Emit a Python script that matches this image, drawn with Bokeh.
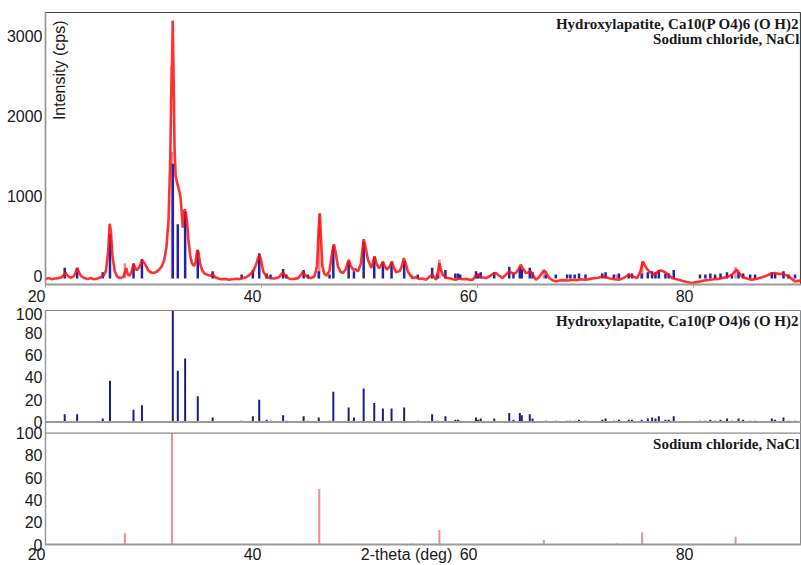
from bokeh.plotting import figure
from bokeh.layouts import column
from bokeh.models import Label, Range1d, FixedTicker, ColumnDataSource, Span
from bokeh.embed import file_html
from bokeh.resources import INLINE

# Measured diffraction pattern: 2-theta (deg) and intensity (cps)
two_theta = [
    20.0, 20.3, 20.6, 20.9, 21.2, 21.5, 21.7, 21.85, 22.0, 22.3, 22.6, 22.8, 22.93, 23.1, 23.3,
    23.6, 23.9, 24.2, 24.5, 24.8, 25.1, 25.38, 25.6, 25.8, 25.94, 26.05, 26.2, 26.4, 26.62, 26.9,
    27.2, 27.4, 27.48, 27.6, 27.8, 28.0, 28.15, 28.3, 28.46, 28.7, 28.93, 29.1, 29.33, 29.54, 29.8,
    30.0, 30.3, 30.55, 30.77, 31.0, 31.2, 31.39, 31.55, 31.68, 31.72, 31.78, 31.86, 31.95, 32.05, 32.2,
    32.35, 32.5, 32.62, 32.71, 32.8, 32.9, 33.0, 33.1, 33.23, 33.4, 33.55, 33.75, 33.9, 34.05, 34.15,
    34.3, 34.5, 34.7, 35.0, 35.3, 35.48, 35.7, 36.0, 36.3, 36.6, 37.0, 37.3, 37.6, 38.0, 38.3,
    38.6, 38.9, 39.23, 39.5, 39.7, 39.82, 39.95, 40.16, 40.47, 40.8, 41.2, 41.6, 41.85, 42.0, 42.2,
    42.62, 43.0, 43.4, 43.7, 43.85, 44.0, 44.3, 44.6, 44.9, 45.14, 45.3, 45.4, 45.5, 45.64, 45.8,
    46.0, 46.3, 46.55, 46.71, 46.85, 47.08, 47.3, 47.54, 47.8, 48.07, 48.25, 48.47, 48.7, 48.93, 49.2,
    49.46, 49.6, 49.86, 50.17, 50.47, 50.65, 50.87, 51.05, 51.24, 51.4, 51.61, 51.85, 52.07, 52.25, 52.47,
    52.8, 53.0, 53.18, 53.35, 53.55, 53.8, 54.0, 54.3, 54.6, 54.9, 55.24, 55.5, 55.8, 56.0, 56.17,
    56.35, 56.47, 56.6, 56.78, 57.1, 57.4, 57.7, 58.0, 58.3, 58.6, 59.0, 59.3, 59.55, 59.86, 60.1,
    60.4, 60.78, 61.1, 61.4, 61.7, 62.0, 62.32, 62.6, 62.94, 63.2, 63.55, 63.8, 64.0, 64.2, 64.48,
    64.7, 64.94, 65.15, 65.4, 65.7, 65.95, 66.17, 66.35, 66.63, 67.0, 67.25, 67.6, 68.0, 68.4, 68.8,
    69.2, 69.6, 70.0, 70.4, 70.8, 71.2, 71.55, 71.9, 72.3, 72.7, 73.1, 73.5, 74.0, 74.4, 74.8,
    75.1, 75.3, 75.45, 75.7, 76.0, 76.33, 76.6, 76.94, 77.2, 77.4, 77.7, 78.02, 78.3, 78.63, 79.0,
    79.4, 79.86, 80.3, 80.7, 81.1, 81.5, 81.9, 82.3, 82.63, 83.0, 83.3, 83.56, 83.8, 84.02, 84.2,
    84.48, 84.8, 85.1, 85.4, 85.8, 86.2, 86.63, 87.0, 87.3, 87.56, 87.9, 88.17, 88.5, 88.79, 89.1,
    89.4, 89.7, 90.0,
]
intensity = [
    -40, -30, -45, -35, -30, -20, 10, 40, 5, -25, -10, 40, 95, 40, -5,
    -30, -40, -30, -45, -35, -20, 0, 60, 300, 650, 560, 250, 60, -10, -30,
    -15, 60, 96, 20, 0, 60, 150, 100, 68, 110, 190, 170, 116, 60, 40,
    33, 50, 80, 120, 200, 360, 700, 1450, 2600, 2650, 3190, 2500, 1600, 1250, 1150,
    1080, 980, 780, 600, 790, 830, 780, 680, 450, 250, 160, 120, 170, 320, 300,
    160, 70, 30, 10, 0, 25, -20, -35, -45, -40, -50, -45, -40, -41, -30,
    -20, 10, 55, 140, 230, 262, 200, 54, -16, -30, -35, -20, 20, 41, 0,
    -41, -40, -30, 20, 54, 10, -20, -29, -10, 116, 600, 780, 500, 116, 30,
    0, 60, 300, 394, 300, 116, 50, 33, 80, 199, 130, 75, 80, 54, 150,
    457, 380, 199, 96, 241, 150, 96, 120, 178, 120, 75, 110, 178, 100, 41,
    60, 120, 220, 150, 54, 0, -29, -20, -40, -35, -50, -20, 12, -20, -50,
    60, 158, 80, 12, -29, -30, -45, -50, -35, -45, -40, -50, -50, 0, 10,
    -20, -29, -10, 20, 33, 0, -29, 10, 54, 30, 33, 80, 137, 90, 33,
    40, 54, 10, -50, -20, 30, 66, 40, -29, -60, -71, -60, -55, -60, -50,
    -55, -45, -50, -40, -30, -25, -8, -20, -35, -45, -50, -30, 12, -10, -29,
    60, 178, 140, 83, 40, 12, 40, 66, 55, 41, 10, -29, -40, -50, -65,
    -80, -91, -80, -70, -58, -50, -45, -40, -29, -20, -5, 12, 50, 75, 40,
    -8, -30, -40, -50, -40, -25, -8, 15, 30, 33, 20, 25, 10, -8, -40,
    -71, -65, -60,
]

# Reference pattern: hydroxylapatite (relative intensity, %)
hap_pos = [
    21.78, 22.93, 25.3, 25.97, 28.15, 28.93, 31.79, 32.25, 32.93, 34.1, 35.48, 38.16, 39.2, 39.79,
    40.47, 40.84, 42.0, 42.3, 43.9, 44.3, 45.3, 46.3, 46.65, 48.07, 48.56, 49.46, 50.44, 51.24,
    52.04, 53.21, 54.47, 55.8, 56.3, 57.03, 57.95, 58.2, 58.4, 59.86, 60.07, 60.3, 61.55, 62.94,
    63.33, 63.92, 64.1, 64.84, 65.1, 66.33, 67.25, 68.3, 68.6, 69.0, 69.4, 70.0, 71.55, 71.86,
    72.63, 73.1, 74.0, 74.3, 75.2, 75.77, 76.17, 76.48, 76.79, 77.4, 77.7, 78.17, 80.6, 81.1,
    81.56, 82.0, 82.5, 83.1, 83.56, 84.17, 84.6, 85.25, 85.7, 87.25, 87.56, 88.33, 88.8, 89.4,
]
hap_rel = [
    7, 7, 3, 37, 11, 15, 100, 46, 57, 23, 4, 1, 5, 20,
    2, 1, 6, 1, 5, 1, 4, 1, 27, 13, 4, 30, 17, 12,
    12, 13, 1, 7, 1, 5, 2, 2, 1, 4, 2, 3, 3, 8,
    2, 8, 6, 7, 3, 1, 1, 1, 1, 1, 2, 1, 2, 3,
    1, 2, 2, 2, 2, 3, 4, 3, 5, 2, 2, 5, 1, 1,
    2, 1, 2, 3, 1, 3, 2, 1, 1, 3, 2, 4, 1, 1,
]

# Reference pattern: sodium chloride (relative intensity, %)
nacl_pos = [27.35, 31.72, 45.35, 53.9, 56.47, 66.15, 72.9, 75.25, 83.9]
nacl_rel = [10, 100, 50, 1, 13, 4, 1, 11, 7]

x_ticks = [20, 40, 60, 80]
top_y_ticks = [0, 1000, 2000, 3000]
ref_y_ticks = [0, 20, 40, 60, 80, 100]

HAP_NAME = "Hydroxylapatite, Ca10(P O4)6 (O H)2"
NACL_NAME = "Sodium chloride, NaCl"
X_TITLE = "2-theta (deg)"
X_TITLE_AT = 53.43

# cps per % used to overlay the reference sticks on the measured pattern
HAP_SCALE = 14.0
NACL_SCALE = 15.5
STICK_BASE = -35

# the two reference panels share one frame; the upper one is lifted by this much
PANEL_LIFT = 110

SANS = "Liberation Sans"
SERIF = "Liberation Serif"
RED = "#ff0d0d"
BLUE = "#2323a8"
NAVY = "#1c1c8a"
PINK = "#ef8b95"
AXIS_GREY = "#9a9a9a"
PAD = "\u00a0"

X0, X1 = 20, 90
TOP_Y = (-110, 3290)


def right_hung(ticks):
    """Tick labels that end at their tick instead of being centred on it."""
    out = {}
    for t in ticks:
        txt = str(t) + PAD * (2 * len(str(t)))
        out[t] = txt
        out[str(t)] = txt
    return out


def style_axes(p, yticks):
    p.grid.visible = False
    p.background_fill_color = "white"
    p.border_fill_color = "white"
    for ax in p.yaxis:
        ax.ticker = FixedTicker(ticks=yticks)
        ax.major_tick_out = 0
        ax.major_tick_in = 0
        ax.minor_tick_line_color = None
        ax.axis_line_color = AXIS_GREY
        ax.axis_line_width = 1.5
        ax.major_label_text_font = SANS
        ax.major_label_text_font_size = "16px"
        ax.major_label_text_color = "#1a1a1a"
        ax.major_label_standoff = 3
    for ax in p.xaxis:
        ax.ticker = FixedTicker(ticks=x_ticks)
        ax.major_label_overrides = right_hung(x_ticks)
        ax.major_tick_out = 3
        ax.major_tick_in = 0
        ax.major_tick_line_color = AXIS_GREY
        ax.minor_tick_line_color = None
        ax.axis_line_color = AXIS_GREY
        ax.axis_line_width = 2
        ax.major_label_text_font = SANS
        ax.major_label_text_font_size = "16px"
        ax.major_label_text_color = "#1a1a1a"
        ax.major_label_standoff = 0


def phase_label(p, text, y):
    p.add_layout(Label(x=89.8, y=y, text=text, text_align="right", text_baseline="top",
                       text_font=SERIF, text_font_style="bold", text_font_size="15px",
                       text_color="#1a1a1a"))


# ---- measured pattern with both reference phases overlaid ----
p1 = figure(width=801, height=307, x_range=Range1d(X0, X1), y_range=Range1d(*TOP_Y),
            output_backend="svg", toolbar_location=None,
            min_border_left=45, min_border_right=0, min_border_top=12, min_border_bottom=23)
style_axes(p1, top_y_ticks)
p1.outline_line_color = "#444444"
p1.outline_line_width = 1.2

nacl_top = ColumnDataSource(dict(x=nacl_pos, y0=[STICK_BASE] * len(nacl_pos),
                                 y1=[v * NACL_SCALE for v in nacl_rel]))
hap_top = ColumnDataSource(dict(x=hap_pos, y0=[STICK_BASE] * len(hap_pos),
                                y1=[v * HAP_SCALE for v in hap_rel]))
p1.segment(x0="x", y0="y0", x1="x", y1="y1", source=nacl_top, line_color=PINK, line_width=2.5)
p1.segment(x0="x", y0="y0", x1="x", y1="y1", source=hap_top, line_color=BLUE, line_width=2.5)
p1.line(two_theta, intensity, line_color=RED, line_width=2.6, line_alpha=0.85)

p1.add_layout(Label(x=20.55, y=3190, text="Intensity (cps)", angle=1.5708,
                    text_align="right", text_baseline="top", text_font=SANS,
                    text_font_size="16px", text_color="#1a1a1a"))
phase_label(p1, HAP_NAME, 3250)
phase_label(p1, NACL_NAME, 3060)

# ---- reference patterns: hydroxylapatite above, sodium chloride below ----
p2 = figure(width=801, height=258, x_range=p1.x_range, y_range=Range1d(0, PANEL_LIFT + 100),
            output_backend="svg", toolbar_location=None,
            min_border_left=45, min_border_right=0, min_border_top=3, min_border_bottom=20)
ref_ticks = ref_y_ticks + [PANEL_LIFT + t for t in ref_y_ticks]
style_axes(p2, ref_ticks)
p2.yaxis.major_label_overrides = {PANEL_LIFT + t: str(t) for t in ref_y_ticks}
p2.outline_line_color = "#8a8a8a"

# x title sits on the tick-label row between 40 and 60
xaxis = p2.xaxis[0]
xaxis.ticker = FixedTicker(ticks=x_ticks + [X_TITLE_AT])
xaxis.major_label_overrides = {**right_hung(x_ticks), X_TITLE_AT: X_TITLE}
xaxis.major_tick_out = 1
xaxis.major_label_standoff = 0

# baseline of the upper panel and top edge of the lower panel
p2.add_layout(Span(location=PANEL_LIFT, dimension="width", line_color=AXIS_GREY, line_width=2))
p2.add_layout(Span(location=100, dimension="width", line_color="#8a8a8a", line_width=1.2))

p2.segment(x0=hap_pos, y0=[PANEL_LIFT] * len(hap_pos), x1=hap_pos,
           y1=[PANEL_LIFT + v for v in hap_rel], line_color=NAVY, line_width=2)
p2.segment(x0=nacl_pos, y0=[0] * len(nacl_pos), x1=nacl_pos, y1=nacl_rel,
           line_color=PINK, line_width=2)
phase_label(p2, HAP_NAME, PANEL_LIFT + 98.2)
phase_label(p2, NACL_NAME, 97.3)

layout = column(p1, p2, spacing=0)
open("out.html", "w").write(file_html(layout, INLINE))
